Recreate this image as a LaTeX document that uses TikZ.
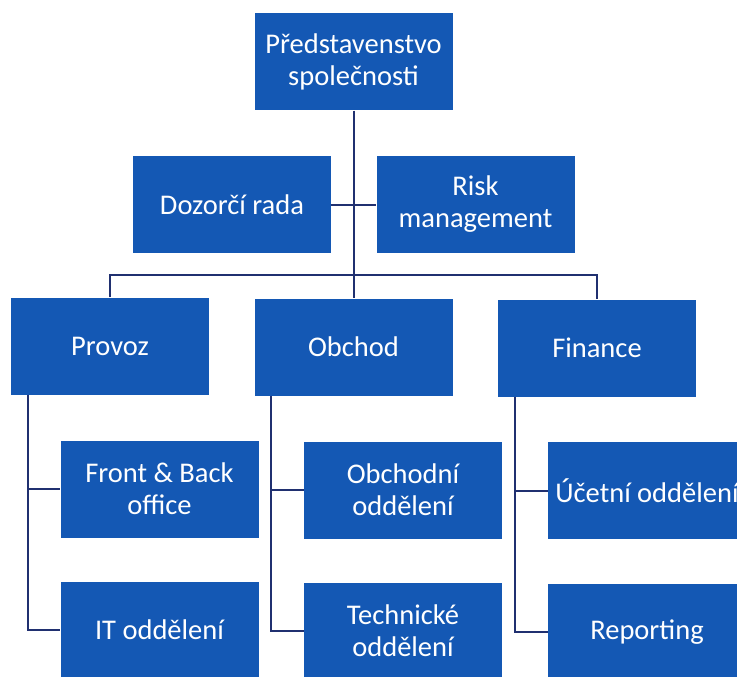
\documentclass[tikz,border=0pt]{standalone}
\usepackage{fontspec}
\setmainfont{Carlito}
\usepackage{xcolor}
\usepackage{tikz}
\definecolor{orgblue}{RGB}{20,88,180}
\definecolor{linenavy}{RGB}{32,48,112}

\tikzset{
  unitbox/.style={fill=orgblue, text=white, inner sep=0pt, align=center,
    minimum width=198pt, minimum height=97pt,
    font=\fontsize{28.5}{32}\selectfont},
  orgline/.style={draw=linenavy, line width=2pt}
}

\begin{document}
\begin{tikzpicture}[x=1pt, y=-1pt]
      \useasboundingbox (0,0) rectangle (737,677);
      \clip (0,0) rectangle (737,677);
      % Board and staff units
      \node[unitbox] (board) at (353.5,62) {Představenstvo\\společnosti};
      \node[unitbox] (supervisory) at (232,204.5) {Dozorčí rada};
      \node[unitbox] (risk) at (475.5,204.5) {Risk\\management};
      % Divisions
      \node[unitbox] (operations) at (110,346) {Provoz};
      \node[unitbox] (sales) at (353.5,347) {Obchod};
      \node[unitbox] (finance) at (597,348) {Finance};
      % Departments
      \node[unitbox] (office) at (159.5,489) {Front \& Back\\office};
      \node[unitbox] (itdept) at (159.5,630) {IT oddělení};
      \node[unitbox] (salesdept) at (403,490) {Obchodní\\oddělení};
      \node[unitbox] (techdept) at (403,631) {Technické\\oddělení};
      \node[unitbox] (accounting) at (647,490.5) {Účetní oddělení};
      \node[unitbox] (reporting) at (647,632) {Reporting};
      % Trunk, staff link and bus
      \coordinate (bus) at (0,275);
      \draw[orgline] (board.south) -- (sales.north);
      \draw[orgline] (supervisory.east) -- (risk.west);
      \draw[orgline] (operations.north) -- (operations.north |- bus)
        -- (finance.north |- bus) -- (finance.north);
      % Department spines
      \foreach \div/\upper/\lower in {operations/office/itdept,
          sales/salesdept/techdept, finance/accounting/reporting}
      {
        \coordinate (\div spine) at ([xshift=17pt]\div.south west);
        \draw[orgline] (\div spine) -- (\div spine |- \lower.west) -- (\lower.west);
        \draw[orgline] (\div spine |- \upper.west) -- (\upper.west);
      }
    \end{tikzpicture}
\end{document}
